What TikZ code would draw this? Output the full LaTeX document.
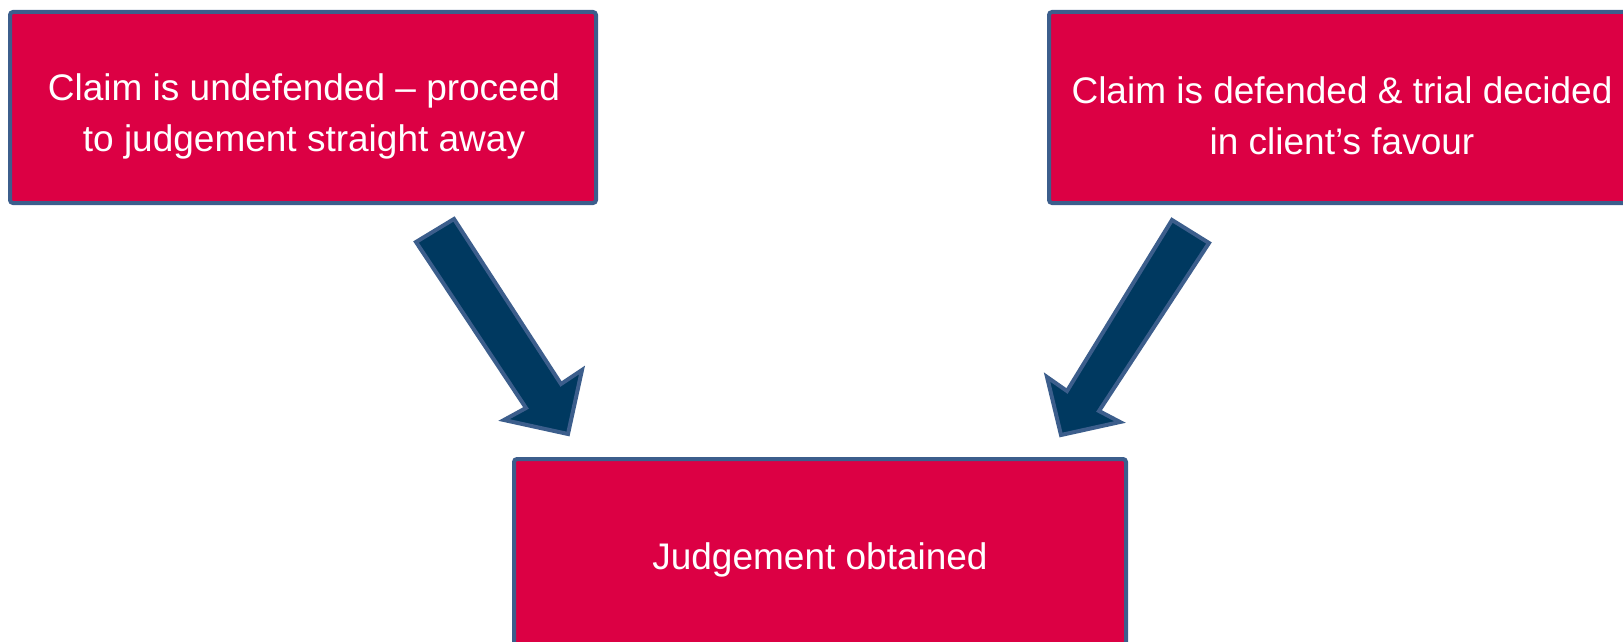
\documentclass[tikz,border=0pt]{standalone}
\usepackage{fontspec}
\setmainfont{Liberation Sans}
\definecolor{boxred}{RGB}{220,0,68}
\definecolor{edgeblue}{RGB}{60,94,140}
\definecolor{arrownavy}{RGB}{0,57,96}
\begin{document}
\begin{tikzpicture}[x=0.5pt,y=-0.5pt,
  box/.style={draw=edgeblue, fill=boxred, line width=2pt, rounded corners=1.5pt,
    anchor=north west, outer sep=0pt, inner sep=0pt},
  lbl/.style={text=white, align=center, font=\fontsize{18.5}{25.5}\selectfont, inner sep=0pt},
  blockarrow/.style={draw=edgeblue, fill=arrownavy, line width=2pt, line join=miter}]
\useasboundingbox (0,0) rectangle (1623,642);
\node[box, minimum width=293pt, minimum height=95.5pt] (left) at (10,12) {};
\node[box, minimum width=293pt, minimum height=95.5pt] (right) at (1049,12) {};
\node[box, minimum width=306pt, minimum height=101.5pt] (bottom) at (514,459) {};
\node[lbl] (lefttext) at (304,116) {Claim is undefended – proceed\\to judgement straight away};
\node[lbl] (righttext) at (1342,116) {Claim is defended \& trial decided\\in client’s favour};
\node[lbl] (bottomtext) at (820,560) {Judgement obtained};
\draw[blockarrow] (416,242) -- (454,219) -- (561,384) -- (582,370) -- (568,434)
  -- (504,420) -- (526,408) -- cycle;
\draw[blockarrow] (1172,220) -- (1209,243) -- (1099,411) -- (1120,422) -- (1061,435)
  -- (1047,377) -- (1067,391) -- cycle;
\end{tikzpicture}
\end{document}
